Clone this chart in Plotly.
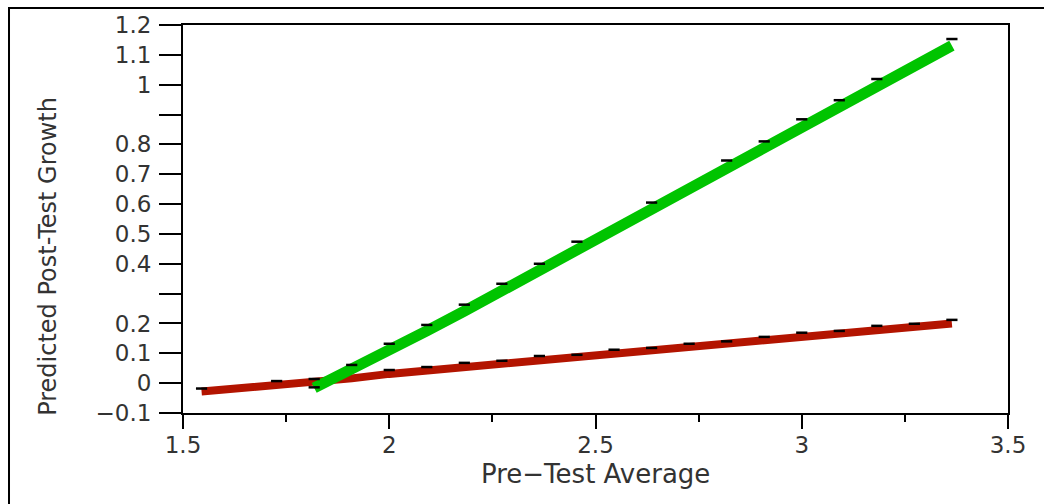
import plotly.graph_objects as go

# Red series (line centre) and its point markers
red_x = [1.545, 1.727, 1.818, 1.909, 2.000, 2.091, 2.182, 2.273, 2.364, 2.455,
         2.545, 2.636, 2.727, 2.818, 2.909, 3.000, 3.091, 3.182, 3.273, 3.364]
red_line = [-0.028, -0.006, 0.001, 0.016, 0.031, 0.042, 0.055, 0.064, 0.077, 0.085,
            0.099, 0.107, 0.119, 0.129, 0.142, 0.155, 0.164, 0.178, 0.188, 0.200]
red_pts_x = [1.545, 1.727, 1.818, 2.000, 2.091, 2.182, 2.273, 2.364, 2.455,
             2.545, 2.636, 2.727, 2.818, 2.909, 3.000, 3.091, 3.182, 3.273, 3.364]
red_pts = [-0.018, 0.007, 0.014, 0.044, 0.054, 0.068, 0.075, 0.091, 0.095,
           0.112, 0.118, 0.132, 0.140, 0.155, 0.169, 0.175, 0.192, 0.199, 0.212]

# Green series (line centre) and its point markers
green_x = [1.818, 1.909, 2.000, 2.091, 2.182, 2.273, 2.364, 2.455, 2.545, 2.636,
           2.727, 2.818, 2.909, 3.000, 3.091, 3.182, 3.273, 3.364]
green_line = [-0.016, 0.045, 0.110, 0.175, 0.241, 0.310, 0.378, 0.450, 0.517, 0.584,
              0.653, 0.723, 0.790, 0.860, 0.927, 0.997, 1.063, 1.131]
green_pts_x = [1.818, 1.909, 2.000, 2.091, 2.182, 2.273, 2.364, 2.455, 2.636,
               2.818, 2.909, 3.000, 3.091, 3.182, 3.364]
green_pts = [-0.014, 0.061, 0.132, 0.195, 0.263, 0.333, 0.400, 0.474, 0.605,
             0.746, 0.810, 0.884, 0.948, 1.019, 1.153]

y_tickvals = [-0.1, 0, 0.1, 0.2, 0.3, 0.4, 0.5, 0.6, 0.7, 0.8, 0.9, 1.0, 1.1, 1.2]
y_ticktext = ["\u22120.1", "0", "0.1", "0.2", "", "0.4", "0.5", "0.6", "0.7", "0.8", "", "1", "1.1", "1.2"]
x_tickvals = [1.5, 2, 2.5, 3, 3.5]
x_ticktext = ["1.5", "2", "2.5", "3", "3.5"]

x_title = "Pre\u2212Test Average"
y_title = "Predicted Post-Test Growth"

RED = "#b31400"
GREEN = "#00c400"
FONT = "DejaVu Sans"
TXT = "#333333"

fig = go.Figure()
fig.add_trace(go.Scatter(x=red_x, y=red_line, mode="lines",
                         line=dict(color=RED, width=8)))
fig.add_trace(go.Scatter(x=green_x, y=green_line, mode="lines",
                         line=dict(color=GREEN, width=11)))
fig.add_trace(go.Scatter(x=red_pts_x, y=red_pts, mode="markers",
                         marker=dict(symbol="line-ew", size=8, color="black",
                                     line=dict(color="black", width=2.5)),
                         hoverinfo="skip"))
fig.add_trace(go.Scatter(x=green_pts_x, y=green_pts, mode="markers",
                         marker=dict(symbol="line-ew", size=8, color="black",
                                     line=dict(color="black", width=2.5)),
                         hoverinfo="skip"))

fig.update_layout(
    width=1044, height=504,
    margin=dict(l=183, r=36, t=23, b=91, pad=0),
    paper_bgcolor="white", plot_bgcolor="white",
    showlegend=False,
    font=dict(family=FONT, color=TXT, size=22),
)
fig.update_xaxes(
    range=[1.5, 3.5], showgrid=False, zeroline=False,
    showline=True, linecolor="black", linewidth=2, mirror=True,
    ticks="outside", ticklen=14, tickwidth=2, tickcolor="black",
    tickvals=x_tickvals, ticktext=x_ticktext,
    tickfont=dict(family=FONT, size=23, color=TXT),
    ticklabelstandoff=-4,
    minor=dict(dtick=0.25, tick0=1.5, ticks="outside", ticklen=7, tickwidth=2, tickcolor="black", showgrid=False),
)
fig.update_yaxes(
    range=[-0.1, 1.2], showgrid=False, zeroline=False,
    showline=True, linecolor="black", linewidth=2, mirror=True,
    ticks="outside", ticklen=22, tickwidth=2, tickcolor="black",
    tickvals=y_tickvals, ticktext=y_ticktext,
    tickfont=dict(family=FONT, size=23, color=TXT),
    ticklabelstandoff=3,
)
fig.add_annotation(text=x_title, xref="paper", yref="paper", x=0.5, y=-0.158,
                   xanchor="center", yanchor="middle", showarrow=False,
                   font=dict(family=FONT, size=26, color=TXT))
fig.add_annotation(text=y_title, xref="paper", yref="paper", x=-0.1636, y=0.4026,
                   xanchor="center", yanchor="middle", showarrow=False, textangle=-90,
                   font=dict(family=FONT, size=24, color=TXT))
# outer picture frame (left and top edges visible)
fig.add_shape(type="rect", xref="paper", yref="paper",
              x0=-0.2109, x1=1.07, y0=-0.28, y1=1.0436,
              line=dict(color="black", width=2), layer="above")

fig.write_html("out.html", config={"displayModeBar": False},
               post_script="document.body.style.margin='0';")
